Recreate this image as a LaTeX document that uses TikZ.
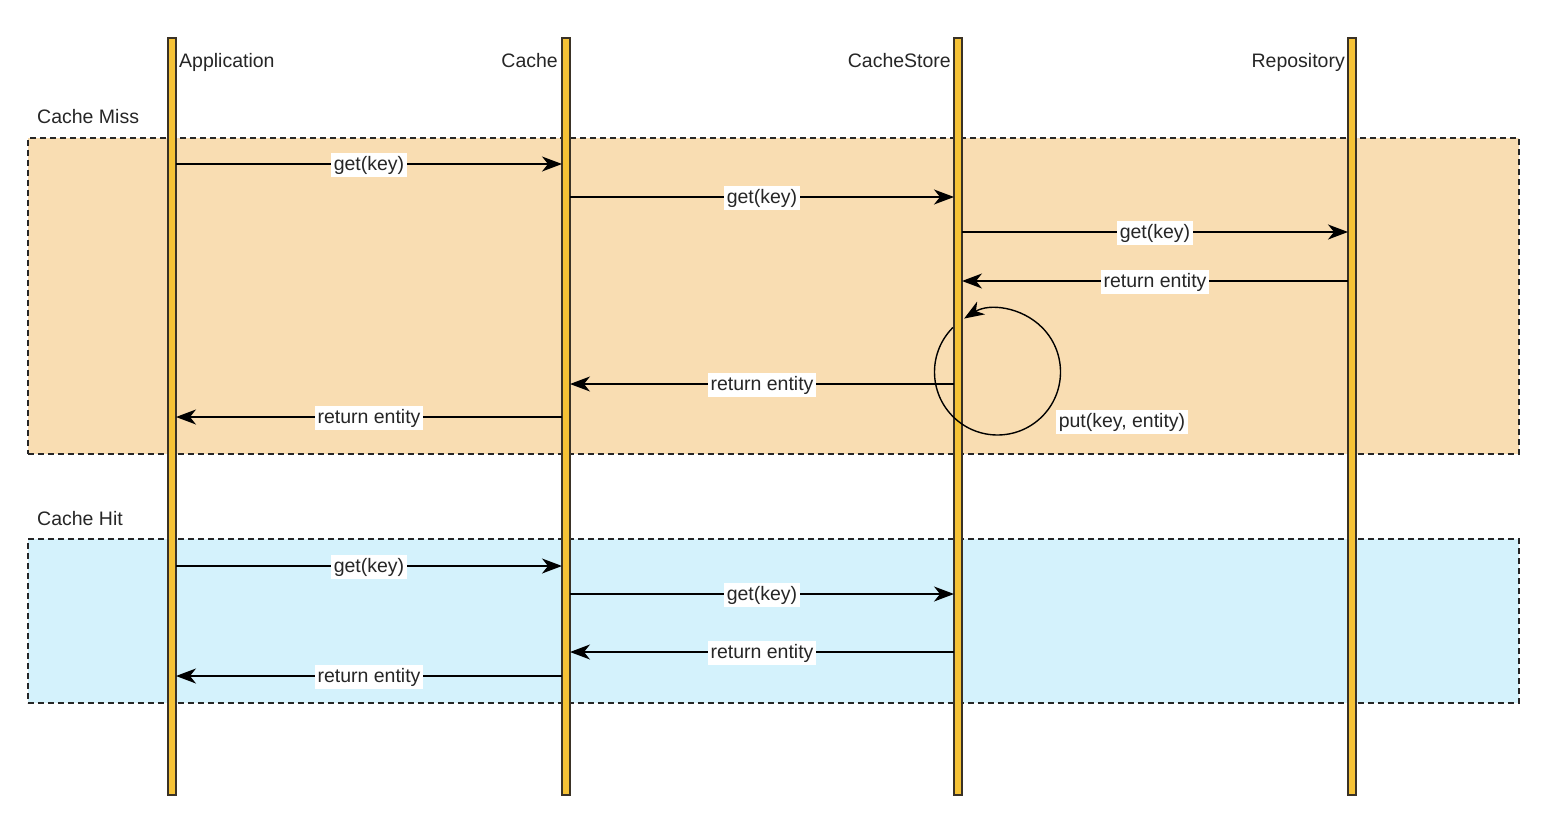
\documentclass[tikz,border=0pt]{standalone}
\usepackage{fontspec}
\setmainfont{Liberation Sans}
\usetikzlibrary{arrows.meta}
\definecolor{missfill}{HTML}{F9DDB2}
\definecolor{hitfill}{HTML}{D4F2FC}
\definecolor{lifefill}{HTML}{F5C236}
\definecolor{lifedraw}{HTML}{3A3226}
\definecolor{txt}{HTML}{262626}
\tikzset{
  lifeline/.style={draw=lifedraw, fill=lifefill, line width=1.5pt, minimum width=8pt, minimum height=757pt, inner sep=0pt, outer sep=0pt},
  frag/.style={draw=black!85, dash pattern=on 6pt off 4pt, line width=1.5pt},
  msg/.style={draw=black, line width=1.4pt, -{Stealth[length=20pt,width=15pt,inset=6pt]}},
  lbl/.style={fill=white, text=txt, inner sep=2.5pt, font=\fontsize{19.5}{23}\selectfont},
  title/.style={text=txt, inner sep=0pt, font=\fontsize{19.5}{23}\selectfont},
}
\begin{document}
\begin{tikzpicture}[x=1pt,y=1pt]
\useasboundingbox (0,0) rectangle (1556,-816);
\fill[white] (0,0) rectangle (1556,-816);
% fragments
\node[frag, fill=missfill, minimum width=1491pt, minimum height=316pt, inner sep=0pt, anchor=north west] (miss) at (27,-137) {};
\node[frag, fill=hitfill, minimum width=1491pt, minimum height=164pt, inner sep=0pt, anchor=north west] (hit) at (27,-538) {};
\node[title, anchor=base west] (misst) at (37,-123) {Cache Miss};
\node[title, anchor=base west] (hitt) at (37,-525) {Cache Hit};
% lifelines
\node[lifeline, anchor=north] (app) at (172,-38) {};
\node[lifeline, anchor=north] (cache) at (566,-38) {};
\node[lifeline, anchor=north] (store) at (958,-38) {};
\node[lifeline, anchor=north] (repo) at (1352,-38) {};
\node[title, anchor=base west] (appt) at (179,-67) {Application};
\node[title, anchor=base east] (cachet) at (558,-67) {Cache};
\node[title, anchor=base east] (storet) at (951,-67) {CacheStore};
\node[title, anchor=base east] (repot) at (1345,-67) {Repository};
% cache miss messages
\draw[msg] (app.east |- 0,-164) -- node[lbl, yshift=-1pt] {get(key)} (cache.west |- 0,-164);
\draw[msg] (cache.east |- 0,-197) -- node[lbl, yshift=-1pt] {get(key)} (store.west |- 0,-197);
\draw[msg] (store.east |- 0,-232) -- node[lbl, yshift=-1pt] {get(key)} (repo.west |- 0,-232);
\draw[msg] (repo.west |- 0,-281) -- node[lbl, yshift=-1pt] {return entity} (store.east |- 0,-281);
\coordinate (loopc) at (997.5,-372);
\draw[draw=black, line width=1.4pt, -{Stealth[length=20pt,width=15pt,inset=6pt]}] (loopc) ++(135:63) arc[start angle=135, end angle=482, radius=63];
\node[lbl] (putl) at (1122,-422) {put(key, entity)};
\draw[msg] (store.west |- 0,-384) -- node[lbl, yshift=-1pt] {return entity} (cache.east |- 0,-384);
\draw[msg] (cache.west |- 0,-417) -- node[lbl, yshift=-1pt] {return entity} (app.east |- 0,-417);
% cache hit messages
\draw[msg] (app.east |- 0,-566) -- node[lbl, yshift=-1pt] {get(key)} (cache.west |- 0,-566);
\draw[msg] (cache.east |- 0,-594) -- node[lbl, yshift=-1pt] {get(key)} (store.west |- 0,-594);
\draw[msg] (store.west |- 0,-652) -- node[lbl, yshift=-1pt] {return entity} (cache.east |- 0,-652);
\draw[msg] (cache.west |- 0,-676) -- node[lbl, yshift=-1pt] {return entity} (app.east |- 0,-676);
\end{tikzpicture}
\end{document}
